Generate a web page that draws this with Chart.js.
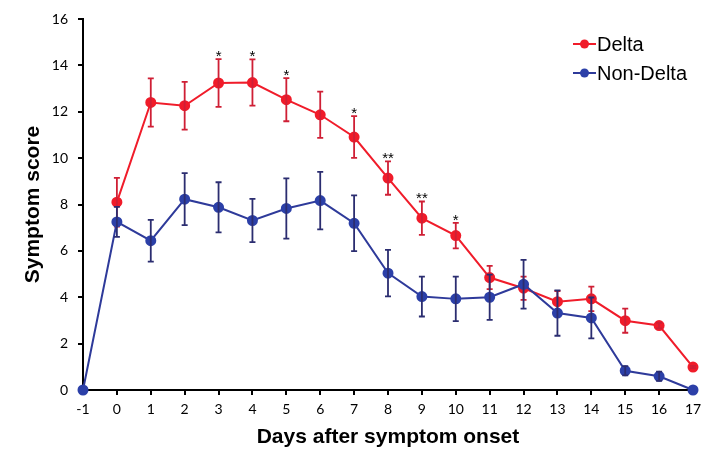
<!DOCTYPE html>
<html>
<head>
<meta charset="utf-8">
<script src="https://cdn.jsdelivr.net/npm/chart.js@4/dist/chart.umd.min.js"></script>
<style>
  html, body { margin: 0; padding: 0; background: #fff; }
  canvas { display: block; }
</style>
</head>
<body>
<canvas id="symptomChart" width="719" height="456"></canvas>
<script>
// values (mean ± error)
const days = ['-1', '0', '1', '2', '3', '4', '5', '6', '7', '8', '9', '10', '11', '12', '13', '14', '15', '16', '17'];
const deltaScore = [null, 8.1, 12.4, 12.26, 13.24, 13.26, 12.52, 11.87, 10.91, 9.14, 7.41, 6.66, 4.85, 4.39, 3.81, 3.93, 2.99, 2.78, 0.99];
const deltaErr = [null, 1.05, 1.04, 1.03, 1.03, 1.0, 0.93, 1.0, 0.9, 0.72, 0.72, 0.55, 0.5, 0.5, 0.46, 0.53, 0.52, 0.12, 0.05];
const nonDeltaScore = [0, 7.25, 6.44, 8.23, 7.88, 7.31, 7.83, 8.17, 7.19, 5.04, 4.03, 3.93, 4.0, 4.56, 3.32, 3.11, 0.83, 0.59, 0];
const nonDeltaErr = [0, 0.65, 0.9, 1.12, 1.08, 0.93, 1.3, 1.24, 1.2, 1.0, 0.86, 0.96, 0.98, 1.05, 0.98, 0.88, 0.2, 0.2, 0];
const significance = ['', '', '', '', '*', '*', '*', '', '*', '**', '**', '*', '', '', '', '', '', '', ''];
const yTicks = [0, 2, 4, 6, 8, 10, 12, 14, 16];

const RED = '#f01c2a';
const BLUE = '#2e3a9a';

// vertical error bars with caps, drawn right after each dataset
const errorBars = {
    id: 'errorBars',
    afterDatasetDraw(chart, args) {
        const ds = chart.data.datasets[args.index];
        if (!ds.errors) return;
        const yScale = chart.scales.y;
        const ctx = chart.ctx;
        ctx.save();
        ctx.strokeStyle = ds.errorColor;
        ctx.lineWidth = 1.8;
        args.meta.data.forEach((pt, i) => {
            const v = ds.data[i];
            const e = ds.errors[i];
            if (v == null || !e) return;
            const top = yScale.getPixelForValue(v + e);
            const bot = yScale.getPixelForValue(v - e);
            ctx.beginPath();
            ctx.moveTo(pt.x, top);
            ctx.lineTo(pt.x, bot);
            ctx.moveTo(pt.x - 3, top);
            ctx.lineTo(pt.x + 3, top);
            ctx.moveTo(pt.x - 3, bot);
            ctx.lineTo(pt.x + 3, bot);
            ctx.stroke();
        });
        ctx.restore();
    }
};

// significance stars above the Delta error bars
const starMarks = {
    id: 'starMarks',
    afterDatasetsDraw(chart) {
        const meta = chart.getDatasetMeta(0);
        const yScale = chart.scales.y;
        const ctx = chart.ctx;
        ctx.save();
        ctx.fillStyle = '#000';
        ctx.font = '15px "Liberation Sans", Arial, sans-serif';
        ctx.textAlign = 'center';
        ctx.textBaseline = 'alphabetic';
        significance.forEach((s, i) => {
            if (!s) return;
            const top = yScale.getPixelForValue(deltaScore[i] + deltaErr[i]);
            ctx.fillText(s, meta.data[i].x, top + 2);
        });
        ctx.restore();
    }
};

// legend with line + dot marker, like the original
const lineLegend = {
    id: 'lineLegend',
    afterDraw(chart) {
        const ctx = chart.ctx;
        ctx.save();
        ctx.font = '20px "Liberation Sans", Arial, sans-serif';
        ctx.textBaseline = 'middle';
        chart.data.datasets.forEach((ds, i) => {
            const y = 44 + i * 29;
            ctx.strokeStyle = ds.borderColor;
            ctx.lineWidth = 2;
            ctx.beginPath();
            ctx.moveTo(573, y);
            ctx.lineTo(596, y);
            ctx.stroke();
            ctx.fillStyle = ds.pointBackgroundColor;
            ctx.beginPath();
            ctx.arc(584.5, y, 4.5, 0, Math.PI * 2);
            ctx.fill();
            ctx.fillStyle = '#000';
            ctx.fillText(ds.label, 597, y + 1);
        });
        ctx.restore();
    }
};

const tickFont = { family: 'Lato, "Open Sans", sans-serif', size: 14 };
const titleFont = { family: '"Liberation Sans", Arial, sans-serif', size: 21, weight: 'bold' };

new Chart(document.getElementById('symptomChart'), {
    type: 'line',
    data: {
        labels: days,
        datasets: [
            {
                label: 'Delta',
                data: deltaScore,
                errors: deltaErr,
                errorColor: '#cf1f35',
                borderColor: RED,
                backgroundColor: RED,
                pointBackgroundColor: RED,
                pointBorderColor: RED,
                borderWidth: 2,
                pointRadius: 4.5,
                spanGaps: false,
                clip: false,
                order: 2
            },
            {
                label: 'Non-Delta',
                data: nonDeltaScore,
                errors: nonDeltaErr,
                errorColor: '#2b2d70',
                borderColor: BLUE,
                backgroundColor: BLUE,
                pointBackgroundColor: '#2c40a8',
                pointBorderColor: '#2c40a8',
                borderWidth: 2,
                pointRadius: 4.5,
                clip: false,
                order: 1
            }
        ]
    },
    options: {
        responsive: false,
        animation: false,
        layout: { padding: { top: 19, right: 26, bottom: 0, left: 0 } },
        plugins: {
            legend: { display: false },
            tooltip: { enabled: false }
        },
        scales: {
            x: {
                offset: false,
                border: { display: true, color: '#000', width: 2 },
                grid: { display: true, drawOnChartArea: false, drawTicks: true, tickLength: 5, color: '#000', lineWidth: 2 },
                ticks: { color: '#000', font: tickFont, padding: 6, maxRotation: 0, autoSkip: false },
                title: { display: true, text: 'Days after symptom onset', color: '#000', font: titleFont, padding: { top: 0, bottom: 6 } },
                afterFit(scale) { scale.height = 66; }
            },
            y: {
                min: 0,
                max: 16,
                border: { display: true, color: '#000', width: 2 },
                grid: { display: true, drawOnChartArea: false, drawTicks: true, tickLength: 5, color: '#000', lineWidth: 2 },
                afterBuildTicks(scale) { scale.ticks = yTicks.map(v => ({ value: v })); },
                ticks: { color: '#000', font: tickFont, padding: 10 },
                title: { display: true, text: 'Symptom score', color: '#000', font: titleFont, padding: { top: 21, bottom: 0 } },
                afterFit(scale) { scale.width = 83; }
            }
        }
    },
    plugins: [errorBars, starMarks, lineLegend]
});
</script>
</body>
</html>
